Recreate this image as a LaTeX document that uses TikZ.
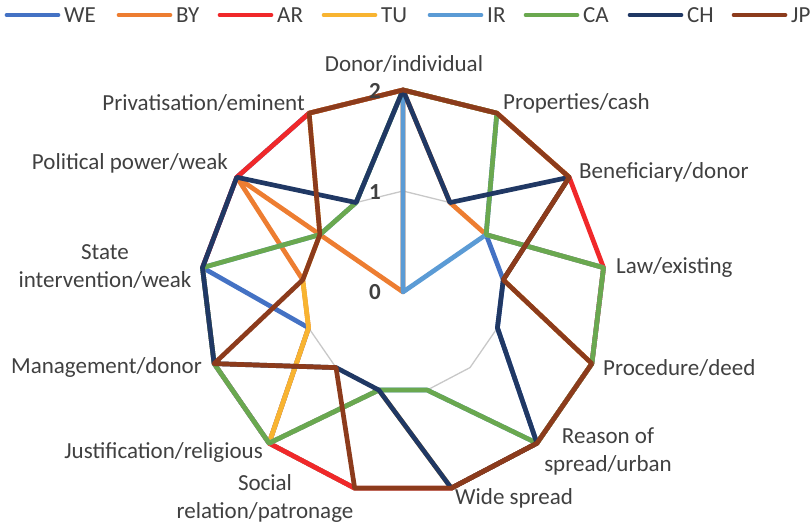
\documentclass[tikz,border=0pt]{standalone}
\usepackage{fontspec}
\setmainfont{Carlito}
\usetikzlibrary{calc}
\usetikzlibrary{positioning}

\definecolor{cWE}{HTML}{4472C4}
\definecolor{cBY}{HTML}{ED7D31}
\definecolor{cAR}{HTML}{F0282A}
\definecolor{cTU}{HTML}{F8B431}
\definecolor{cIR}{HTML}{5B9BD5}
\definecolor{cCA}{HTML}{6AA84F}
\definecolor{cCH}{HTML}{203864}
\definecolor{cJP}{HTML}{8C3B1C}
\definecolor{txtgray}{HTML}{404040}
\definecolor{gridgray}{HTML}{C8C8C8}

\begin{document}
\begin{tikzpicture}[x=1pt, y=-1pt, font=\fontsize{23}{28}\selectfont,
    series/.style={line width=4.7pt, line join=round, line cap=round},
    gridline/.style={draw=gridgray, line width=1.3pt},
    axlabel/.style={inner sep=0pt, text=txtgray, align=center},
    numlabel/.style={inner sep=0pt, text=txtgray, font=\fontsize{23}{28}\selectfont\bfseries}]
\useasboundingbox (0,0) rectangle (810,527);
\coordinate (ctr) at (403,292);
% spokes: level 0, 1, 2 on each of the 13 axes
\foreach \k in {0,...,12}{
  \coordinate (a\k-0) at (ctr);
  \coordinate (a\k-1) at ($(ctr)+({-90+\k*360/13}:101)$);
  \coordinate (a\k-2) at ($(ctr)+({-90+\k*360/13}:202)$);
}
% grid
\draw[gridline] (a0-1) foreach \k in {1,...,12}{ -- (a\k-1) } -- cycle;
\draw[gridline] (a0-2) foreach \k in {1,...,12}{ -- (a\k-2) } -- cycle;

% series, in legend order
\draw[series, cWE] (a0-2) foreach \v [count=\k from 0] in {2,2,1,1,1,2,2,2,2,1,2,2,2}{ -- (a\k-\v) } -- cycle;
\draw[series, cBY] (a0-2) foreach \v [count=\k from 0] in {2,1,1,2,2,2,2,2,2,1,1,2,0}{ -- (a\k-\v) } -- cycle;
\draw[series, cAR] (a0-2) foreach \v [count=\k from 0] in {2,2,2,2,2,2,2,2,2,2,2,2,2}{ -- (a\k-\v) } -- cycle;
\draw[series, cTU] (a0-2) foreach \v [count=\k from 0] in {2,2,2,1,2,2,2,1,2,1,1,1,2}{ -- (a\k-\v) } -- cycle;
\draw[series, cIR] (a0-2) foreach \v [count=\k from 0] in {2,0,1,2,2,2,1,1,2,2,2,1,1}{ -- (a\k-\v) } -- cycle;
\draw[series, cCA] (a0-2) foreach \v [count=\k from 0] in {2,2,1,2,2,2,1,1,2,2,2,1,1}{ -- (a\k-\v) } -- cycle;
\draw[series, cCH] (a0-2) foreach \v [count=\k from 0] in {2,1,2,1,1,2,2,1,1,2,2,2,1}{ -- (a\k-\v) } -- cycle;
\draw[series, cJP] (a0-2) foreach \v [count=\k from 0] in {2,2,2,1,2,2,2,2,1,2,1,1,2}{ -- (a\k-\v) } -- cycle;

% scale
\node (n2) [numlabel] at (375,91) {2};
\node (n1) [numlabel] at (375,192) {1};
\node (n0) [numlabel] at (375,292) {0};

% axis labels
\node (lbDonor)  [axlabel] at (404,64) {Donor/individual};
\node (lbProp)   [axlabel, anchor=west] at (503,103) {Properties/cash};
\node (lbBen)    [axlabel, anchor=west] at (579,172) {Beneficiary/donor};
\node (lbLaw)    [axlabel, anchor=west] at (616,267) {Law/existing};
\node (lbProc)   [axlabel, anchor=west] at (603,368) {Procedure/deed};
\node (lbReason) [axlabel] at (608,451) {Reason of\\spread/urban};
\node (lbWide)   [axlabel, anchor=west] at (455,498) {Wide spread};
\node (lbSocial) [axlabel] at (265,498) {Social\\relation/patronage};
\node (lbJust)   [axlabel, anchor=east] at (263,452) {Justification/religious};
\node (lbMan)    [axlabel, anchor=east] at (202,367) {Management/donor};
\node (lbState)  [axlabel] at (105,267) {State\\intervention/weak};
\node (lbPol)    [axlabel, anchor=east] at (228,163) {Political power/weak};
\node (lbPriv)   [axlabel, anchor=east] at (305,103) {Privatisation/eminent};

% legend
\foreach \n/\x in {WE/5,BY/117,AR/218,TU/322,IR/428,CA/524,CH/628,JP/732}{
  \coordinate (lg\n) at (\x+2,15);
  \coordinate (lgEnd\n) at (\x+53,15);
  \draw[series, c\n] (lg\n) -- (lgEnd\n);
  \node (lt\n) [axlabel, right=6pt of lgEnd\n] {\n};
}
\end{tikzpicture}
\end{document}
